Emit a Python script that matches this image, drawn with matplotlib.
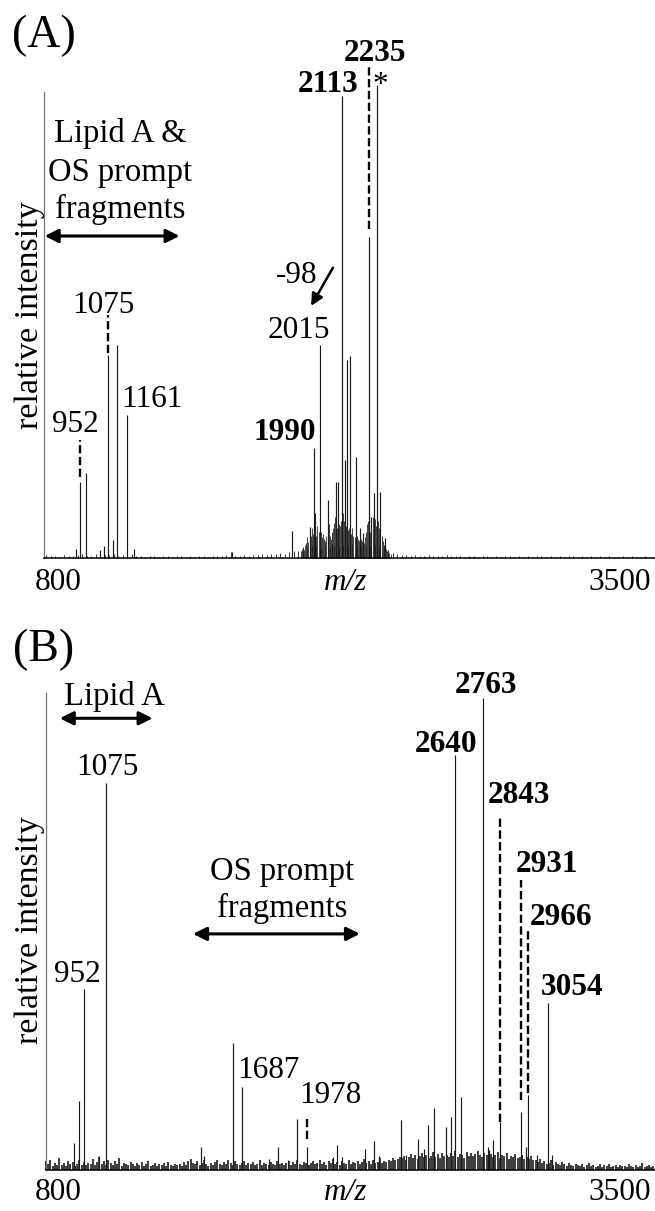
import numpy as np
import matplotlib
matplotlib.use("Agg")
import matplotlib.pyplot as plt

plt.rcParams['font.family'] = ['Liberation Serif', 'DejaVu Serif']

# ---------------- Panel A data ----------------
peaks_A_mz = [932, 951, 976, 1040, 1058, 1075, 1098, 1117, 1161, 1189, 1625,
              1891, 1972, 1990, 1994, 2015, 2054, 2069, 2088, 2098, 2113, 2128,
              2136, 2148, 2177, 2194, 2209, 2235, 2242, 2256, 2270, 2283, 2305]
peaks_A_h = [2.0, 16.4, 18.2, 1.7, 2.5, 43.6, 3.9, 45.7, 30.7, 2.0, 1.3,
             5.7, 6.7, 23.5, 9.7, 45.7, 12.5, 3.0, 16.4, 16.4, 99.1, 21.0,
             42.5, 43.3, 21.7, 6.4, 5.4, 68.9, 8.9, 14.0, 101.5, 14.2, 4.3]

# dense base of the cluster (every 5 m/z from 1930)
cluster_A_start = 1930
cluster_A_h = [1.5, 2.0, 2.4, 1.8, 2.8, 3.2, 4.4, 3.4, 3.0, 4.8, 6.4, 5.2, 4.0, 6.0,
               4.8, 6.8, 5.6, 7.2, 5.6, 4.4, 5.2, 4.0, 3.6, 4.8, 6.0, 7.2, 4.8, 4.0,
               5.6, 6.4, 7.6, 8.8, 6.4, 8.0, 7.2, 6.8, 8.0, 7.6, 9.6, 8.0, 6.8,
               7.2, 6.0, 6.4, 5.6, 5.2, 6.4, 4.8, 4.4, 5.6, 4.8, 4.0, 3.6, 3.2, 4.0,
               3.6, 3.2, 4.4, 5.6, 7.2, 8.0, 6.4, 5.6, 7.6, 8.8, 7.2, 8.4, 6.8,
               7.2, 8.0, 6.4, 5.6, 4.8, 3.6, 2.8, 2.4, 2.0, 1.6, 1.2, 1.0, 0.8]

# baseline noise (every 20 m/z from 800)
noise_A_start = 800
noise_A_h = [0.6, 0.4, 0.5, 0.3, 0.7, 0.5, 0.4, 0.6, 0.9, 0.5, 0.4, 0.8, 1.2, 0.6, 0.7, 0.9, 0.5, 0.6, 0.4, 0.8,
             0.5, 0.4, 0.3, 0.5, 0.4, 0.3, 0.4, 0.5, 0.3, 0.4, 0.5, 0.3, 0.4, 0.3, 0.5, 0.4, 0.3, 0.4, 0.5, 0.4,
             0.6, 1.3, 0.5, 0.4, 0.6, 0.5, 0.7, 0.6, 0.8, 0.7, 0.9, 0.8, 1.0, 0.9, 1.2, 1.4, 1.6, 2.0, 2.4, 2.8,
             2.5, 2.2, 2.8, 2.4, 2.6, 2.3, 2.7, 2.5, 2.9, 2.4, 2.6, 2.8, 2.5, 2.7, 2.3, 2.6, 1.8, 1.1, 0.8, 0.7,
             0.6, 0.5, 0.7, 0.5, 0.4, 0.6, 0.5, 0.4, 0.5, 0.6, 0.4, 0.5, 0.4, 0.3, 0.5, 0.4, 0.3, 0.4, 0.5, 0.3,
             0.4, 0.3, 0.4, 0.5, 0.3, 0.4, 0.3, 0.4, 0.3, 0.5, 0.4, 0.3, 0.4, 0.3, 0.4, 0.3, 0.4, 0.5, 0.3, 0.4,
             0.3, 0.4, 0.3, 0.4, 0.3, 0.4, 0.3, 0.3, 0.4, 0.3, 0.4, 0.3, 0.3, 0.4, 0.3, 0.3]

# labels: text, m/z (centre), y (baseline, %), bold
labels_A = [("2235", 2260, 106.7, True), ("2113", 2052, 100.1, True),
            ("2015", 1922, 47.2, False), ("1990", 1861, 25.4, True),
            ("1075", 1057, 52.5, False), ("952", 929, 27.0, False),
            ("1161", 1271, 32.4, False), ("-98", 1914, 59.0, False),
            ("*", 2283, 99.7, False)]
dashes_A = [(950, 17.4, 25.3), (1076, 44.0, 52.1), (2233, 70.6, 105.6)]

# ---------------- Panel B data ----------------
peaks_B_mz = [928, 948, 972, 1036, 1070, 1497, 1512, 1640, 1683, 1804, 1842, 1887,
              1929, 1973, 2089, 2109, 2129, 2235, 2272, 2296, 2396, 2416, 2474,
              2501, 2516, 2542, 2599, 2621, 2640, 2663, 2763, 2786, 2793, 2808,
              2840, 2933, 2955, 2965, 3006, 3055, 3075]
peaks_B_h = [5.6, 14.5, 37.9, 2.9, 81.2, 4.8, 2.9, 26.6, 17.5, 2.4, 4.8, 2.0,
             10.7, 4.9, 2.8, 5.2, 2.7, 4.3, 6.1, 2.9, 10.5, 3.1, 6.6,
             4.5, 9.4, 13.1, 9.1, 11.2, 87.1, 15.2, 98.9, 4.9, 4.2, 6.3,
             10.1, 12.2, 4.9, 15.7, 3.1, 35.1, 3.1]

# baseline noise (every 10 m/z from 800)
noise_B_start = 800
noise_B_h = [1.8, 1.2, 2.2, 0.9, 1.5, 1.1, 2.6, 1.0, 1.4, 0.8, 1.9, 1.2, 1.6, 0.9, 1.3, 2.0, 1.1, 1.7, 1.0, 1.4,
             1.2, 2.4, 1.0, 1.6, 2.8, 1.3, 1.9, 1.1, 2.2, 1.4, 1.0, 1.8, 1.2, 2.5, 0.9, 1.5, 1.3, 1.0, 1.7, 1.2,
             0.9, 1.4, 1.0, 1.6, 0.8, 1.2, 1.9, 0.9, 1.1, 1.5, 0.8, 1.3, 1.0, 1.4, 0.9, 1.7, 1.1, 0.8, 1.2, 1.0,
             1.3, 0.9, 1.6, 1.1, 1.8, 2.4, 1.5, 1.2, 1.9, 1.0, 1.4, 2.1, 1.2, 0.9, 1.5, 1.1, 1.7, 2.0, 1.3, 1.0,
             1.6, 1.2, 2.2, 1.4, 1.0, 1.8, 1.3, 1.1, 1.5, 1.9, 1.0, 1.4, 1.2, 1.7, 1.0, 1.3, 2.0, 1.1, 1.5, 1.2,
             1.0, 1.6, 1.3, 1.1, 1.8, 1.2, 1.5, 1.0, 1.4, 1.9, 1.1, 1.6, 1.3, 2.1, 1.2, 1.0, 1.7, 1.4, 1.1, 1.5,
             1.8, 1.2, 1.5, 2.2, 1.3, 1.7, 1.1, 1.9, 1.4, 2.4, 1.2, 1.6, 1.0, 1.8, 1.5, 1.3, 2.0, 1.2, 1.7, 1.4,
             1.9, 1.3, 1.6, 2.3, 1.4, 1.8, 1.2, 2.0, 1.5, 1.7, 2.5, 1.4, 1.9, 1.6, 2.2, 1.8, 2.6, 2.0, 2.3, 2.8,
             2.5, 3.0, 2.2, 2.8, 3.4, 2.6, 3.1, 2.4, 2.9, 3.6, 2.7, 3.2, 2.5, 3.0, 3.8, 2.8, 3.3, 2.6, 3.5, 3.0,
             3.2, 2.7, 3.6, 3.0, 3.9, 2.8, 3.4, 3.1, 2.6, 3.7, 3.0, 3.5, 2.9, 3.3, 4.0, 3.1, 2.7, 3.6, 3.2, 2.9,
             3.4, 2.8, 3.1, 3.7, 2.6, 3.2, 2.9, 3.5, 2.4, 3.0, 2.7, 3.3, 2.5, 2.8, 3.1, 2.3, 2.7, 2.4, 2.9, 2.2,
             2.0, 1.6, 2.3, 1.4, 1.8, 1.2, 1.5, 2.1, 1.1, 1.6, 1.3, 1.0, 1.7, 1.2, 0.9, 1.4, 1.1, 0.8, 1.3, 1.0,
             0.9, 1.2, 0.7, 1.0, 1.4, 0.8, 1.1, 0.6, 0.9, 1.3, 0.7, 1.0, 0.8, 1.2, 0.6, 0.9, 1.1, 0.7, 1.0, 0.8,
             0.9, 0.6, 1.2, 0.8, 0.7, 1.0, 0.6, 0.9, 1.4, 0.7, 0.8, 1.1, 0.6, 0.9]

labels_B = [("2763", 2777, 99.9, True), ("2640", 2598, 87.7, True),
            ("2843", 2928, 76.9, True), ("2931", 3052, 62.5, True),
            ("2966", 3115, 51.4, True), ("3054", 3164, 36.7, True),
            ("1075", 1074, 82.8, False), ("952", 942, 39.5, False),
            ("1687", 1800, 19.3, False), ("1978", 2076, 14.0, False)]
dashes_B = [(2840, 10.1, 74.1), (2933, 14.7, 60.8), (2965, 16.1, 50.6), (1973, 6.6, 11.3)]

FS = 22.5      # peak labels, ticks
FS_T = 23.5    # descriptive text
FS_Y = 24.5    # y-axis label
PEAK_KW = dict(colors='#1a1a1a', linewidths=0.85, clip_on=False)
DASH_KW = dict(color='black', lw=1.7, linestyle=(0, (3.5, 1.5)), clip_on=False)

fig = plt.figure(figsize=(6.55, 12.11), dpi=100)
axA = fig.add_axes([44/655, 1-558/1211, 611/655, 466/1211])
axB = fig.add_axes([46/655, 1-1170/1211, 609/655, 477/1211])


def style(ax, xlim):
    ax.set_xlim(*xlim)
    ax.set_ylim(0, 100)
    ax.set_xticks([])
    ax.set_yticks([])
    for s in ('top', 'right'):
        ax.spines[s].set_visible(False)
    ax.spines['left'].set_color('#777777')
    ax.spines['left'].set_linewidth(0.9)
    ax.spines['bottom'].set_color('black')
    ax.spines['bottom'].set_linewidth(1.1)
    ax.patch.set_alpha(0)


def darrow(ax, x0, x1, y):
    ax.annotate('', xy=(x1, y), xytext=(x0, y),
                arrowprops=dict(arrowstyle='<|-|>', lw=2.2, color='black',
                                mutation_scale=20, shrinkA=0, shrinkB=0),
                annotation_clip=False)


# ---- Panel A ----
style(axA, (791, 3504))
nA = noise_A_start + 20 * np.arange(len(noise_A_h))
axA.vlines(nA, 0, noise_A_h, colors='#333333', linewidths=0.7, clip_on=False)
cA = cluster_A_start + 5 * np.arange(len(cluster_A_h))
axA.vlines(cA, 0, cluster_A_h, colors='#222222', linewidths=0.6, clip_on=False)
axA.vlines(peaks_A_mz, 0, peaks_A_h, **PEAK_KW)
for x, y0, y1 in dashes_A:
    axA.plot([x, x], [y0, y1], **DASH_KW)
for t, x, y, b in labels_A:
    axA.text(x, y, t, fontsize=FS, ha='center', va='baseline',
             fontweight='bold' if b else 'normal', clip_on=False)
for t, y in (("Lipid A &", 89.3), ("OS prompt", 80.8), ("fragments", 72.9)):
    axA.text(1128, y, t, fontsize=FS_T, ha='center', va='baseline')
darrow(axA, 794, 1393, 69.1)
axA.annotate('', xy=(1977, 54.1), xytext=(2074, 62.3),
             arrowprops=dict(arrowstyle='-|>', lw=1.8, color='black',
                             mutation_scale=18, shrinkA=0, shrinkB=0))
axA.text(855, -6.9, "800", fontsize=FS, ha='center', va='baseline')
axA.text(3349, -6.9, "3500", fontsize=FS, ha='center', va='baseline')
axA.text(2130, -6.9, "m/z", fontsize=FS, ha='center', va='baseline', style='italic')

# ---- Panel B ----
style(axB, (800, 3537))
nB = noise_B_start + 10 * np.arange(len(noise_B_h))
axB.vlines(nB, 0, noise_B_h, colors='#111111', linewidths=1.15, clip_on=False)
axB.vlines(peaks_B_mz, 0, peaks_B_h, **PEAK_KW)
for x, y0, y1 in dashes_B:
    axB.plot([x, x], [y0, y1], **DASH_KW)
for t, x, y, b in labels_B:
    axB.text(x, y, t, fontsize=FS, ha='center', va='baseline',
             fontweight='bold' if b else 'normal', clip_on=False)
axB.text(1106, 97.5, "Lipid A", fontsize=FS_T, ha='center', va='baseline', clip_on=False)
darrow(axB, 862, 1279, 94.7)
axB.text(1861, 60.8, "OS prompt", fontsize=FS_T, ha='center', va='baseline')
axB.text(1861, 53.0, "fragments", fontsize=FS_T, ha='center', va='baseline')
darrow(axB, 1461, 2211, 49.5)
axB.text(856, -6.3, "800", fontsize=FS, ha='center', va='baseline')
axB.text(3380, -6.3, "3500", fontsize=FS, ha='center', va='baseline')
axB.text(2148, -6.3, "m/z", fontsize=FS, ha='center', va='baseline', style='italic')

# panel letters and y labels
fig.text(44/655, 1-47/1211, "(A)", fontsize=33, ha='center', va='baseline')
fig.text(44/655, 1-661/1211, "(B)", fontsize=33, ha='center', va='baseline')
fig.text(30/655, 1-315/1211, "relative intensity", fontsize=FS_Y, rotation=90,
         ha='center', va='center')
fig.text(30/655, 1-930/1211, "relative intensity", fontsize=FS_Y, rotation=90,
         ha='center', va='center')

fig.savefig("out.png", dpi=100)
